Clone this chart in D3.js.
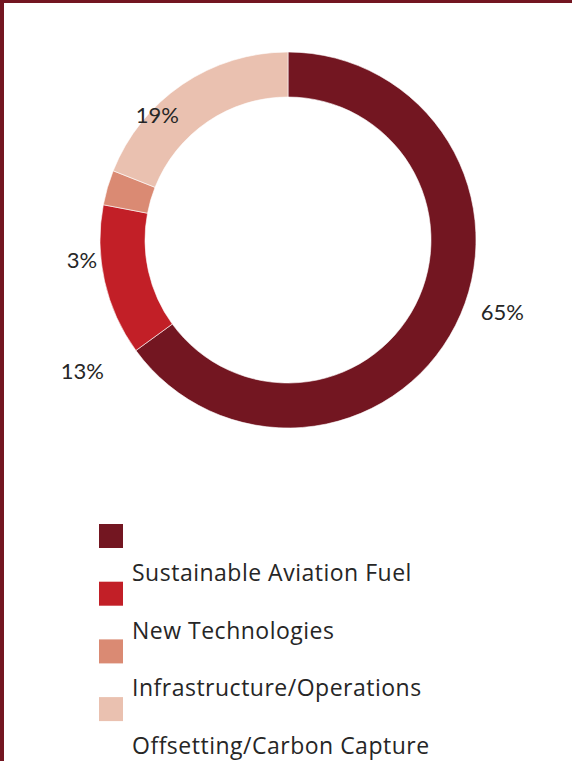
<!DOCTYPE html>
<html>
<head>
<meta charset="utf-8">
<script src="https://cdn.jsdelivr.net/npm/d3@7"></script>
<style>
  html, body { margin: 0; padding: 0; background: #fff; }
  svg { display: block; }
  .pct { font-family: Lato, "Open Sans", sans-serif; font-size: 22px; fill: #262626; }
  .legend text { font-family: "Open Sans", sans-serif; font-size: 23px; letter-spacing: 0.5px; fill: #262626; }
</style>
</head>
<body>
<script>
// data
const categories = ["Sustainable Aviation Fuel", "New Technologies", "Infrastructure/Operations", "Offsetting/Carbon Capture"];
const values = [65, 13, 3, 19];
const labels = ["65%", "13%", "3%", "19%"];
const colors = ["#731621", "#c21f27", "#da8a73", "#eac1b0"];

// label placement (polar, degrees clockwise from top, radius px)
const labelPolar = [[108.5, 226], [237.5, 244], [264.5, 207], [313.8, 181]];

const W = 572, H = 761;
const cx = 288, cy = 240;
const outerR = 188, innerR = 143;

const svg = d3.select("body").append("svg")
  .attr("width", W)
  .attr("height", H);

// frame lines (left + top)
svg.append("rect").attr("x", 0).attr("y", 0).attr("width", W).attr("height", 3).attr("fill", "#731621");
svg.append("rect").attr("x", 0).attr("y", 0).attr("width", 4).attr("height", H).attr("fill", "#731621");

const pie = d3.pie().sort(null).value(d => d);
const arc = d3.arc().innerRadius(innerR).outerRadius(outerR);

const g = svg.append("g").attr("transform", "translate(" + cx + "," + cy + ")");

g.selectAll("path")
  .data(pie(values))
  .enter()
  .append("path")
  .attr("d", arc)
  .attr("fill", (d, i) => colors[i])
  .attr("stroke", "#fff")
  .attr("stroke-width", 0.6);

g.selectAll("text.pct")
  .data(labels)
  .enter()
  .append("text")
  .attr("class", "pct")
  .attr("text-anchor", "middle")
  .attr("dy", "0.36em")
  .attr("x", (d, i) => Math.sin(labelPolar[i][0] * Math.PI / 180) * labelPolar[i][1])
  .attr("y", (d, i) => -Math.cos(labelPolar[i][0] * Math.PI / 180) * labelPolar[i][1])
  .text(d => d);

// legend: swatches with text sitting one row lower (as in the original)
const legendY = d3.scaleLinear().domain([0, 1]).range([524, 581.7]);

const legend = svg.append("g").attr("class", "legend");

legend.selectAll("rect")
  .data(categories)
  .enter()
  .append("rect")
  .attr("x", 99)
  .attr("y", (d, i) => legendY(i))
  .attr("width", 24)
  .attr("height", 24)
  .attr("fill", (d, i) => colors[i]);

legend.selectAll("text")
  .data(categories)
  .enter()
  .append("text")
  .attr("x", 132)
  .attr("y", (d, i) => legendY(i) + 57)
  .text(d => d);
</script>
</body>
</html>
